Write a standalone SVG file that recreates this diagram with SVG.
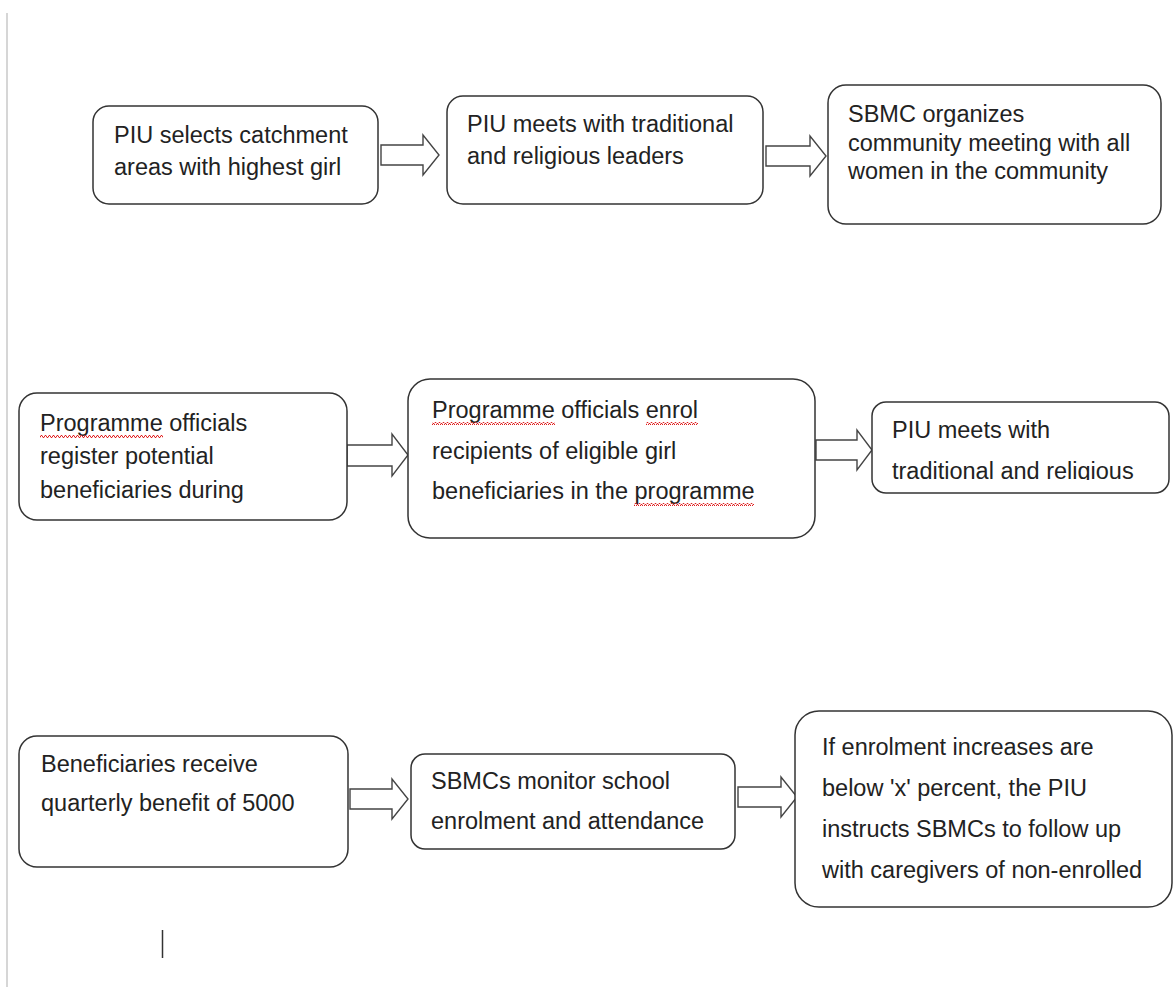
<svg xmlns="http://www.w3.org/2000/svg" width="1173" height="987" viewBox="0 0 1173 987">
<style>
.box{fill:#fff;stroke:#333;stroke-width:1.5}
.arr{fill:#fff;stroke:#444;stroke-width:1.4;stroke-linejoin:miter}
.t{font-family:"Liberation Sans",Arial,sans-serif;font-size:23.5px;fill:#222}
.sq{fill:none;stroke:#e02020;stroke-width:1}
</style>
<defs>
<clipPath id="c6"><rect x="872" y="402" width="297" height="78"/></clipPath>
<pattern id="wave" width="4" height="3" patternUnits="userSpaceOnUse"><path d="M0,2.5 L1,0.5 L2,0.5 L3,2.5 L4,2.5" fill="none" stroke="#e02020" stroke-width="1"/></pattern>
</defs>
<rect x="0" y="0" width="1173" height="987" fill="#fff"/>
<rect x="6" y="13" width="2" height="974" fill="#d6d6d6"/>
<line x1="162.5" y1="930" x2="162.5" y2="958" stroke="#333" stroke-width="1.5"/>
<g id="connectors">
<path class="arr" d="M381,145 H423 V135 L439,155 L423,175 V165 H381 Z"/>
<path class="arr" d="M766,146 H810 V136 L826,156 L810,176 V166 H766 Z"/>
<path class="arr" d="M347,445 H392 V434 L408,455 L392,476 V466 H347 Z"/>
<path class="arr" d="M816,440 H857 V430 L872,450 L857,470 V460 H816 Z"/>
<path class="arr" d="M350,789 H392 V779 L408,799 L392,819 V809 H350 Z"/>
<path class="arr" d="M738,787 H781 V777 L797,797 L781,817 V807 H738 Z"/>
</g>
<g id="n1"><rect class="box" x="93" y="106" width="285" height="98" rx="16"/>
<text class="t" x="114" y="143">PIU selects catchment</text>
<text class="t" x="114" y="175">areas with highest girl</text></g>
<g id="n2"><rect class="box" x="447" y="96" width="316" height="108" rx="16"/>
<text class="t" x="467" y="132">PIU meets with traditional</text>
<text class="t" x="467" y="164">and religious leaders</text></g>
<g id="n3"><rect class="box" x="828" y="85" width="333" height="139" rx="18"/>
<text class="t" x="848" y="122">SBMC organizes</text>
<text class="t" x="848" y="151">community meeting with all</text>
<text class="t" x="848" y="179">women in the community</text></g>
<g id="n4"><rect class="box" x="19" y="393" width="328" height="127" rx="18"/>
<text class="t" x="40" y="431">Programme officials</text>
<text class="t" x="40" y="464">register potential</text>
<text class="t" x="40" y="498">beneficiaries during</text>
<rect x="40" y="435" width="123" height="3" fill="url(#wave)"/></g>
<g id="n5"><rect class="box" x="408" y="379" width="407" height="159" rx="22"/>
<text class="t" x="432" y="418">Programme officials enrol</text>
<text class="t" x="432" y="459">recipients of eligible girl</text>
<text class="t" x="432" y="499">beneficiaries in the programme</text>
<rect x="432" y="422" width="123" height="3" fill="url(#wave)"/>
<rect x="646" y="422" width="52" height="3" fill="url(#wave)"/>
<rect x="634" y="503" width="120" height="3" fill="url(#wave)"/></g>
<g id="n6"><rect class="box" x="872" y="402" width="297" height="91" rx="14"/>
<g clip-path="url(#c6)">
<text class="t" x="892" y="438">PIU meets with</text>
<text class="t" x="892" y="479">traditional and religious</text></g></g>
<g id="n7"><rect class="box" x="19" y="736" width="329" height="131" rx="18"/>
<text class="t" x="41" y="772">Beneficiaries receive</text>
<text class="t" x="41" y="811">quarterly benefit of 5000</text></g>
<g id="n8"><rect class="box" x="411" y="754" width="324" height="95" rx="14"/>
<text class="t" x="431" y="789">SBMCs monitor school</text>
<text class="t" x="431" y="829">enrolment and attendance</text></g>
<g id="n9"><rect class="box" x="795" y="711" width="377" height="196" rx="24"/>
<text class="t" x="822" y="755">If enrolment increases are</text>
<text class="t" x="822" y="796">below 'x' percent, the PIU</text>
<text class="t" x="822" y="837">instructs SBMCs to follow up</text>
<text class="t" x="822" y="878">with caregivers of non-enrolled</text></g>
</svg>
